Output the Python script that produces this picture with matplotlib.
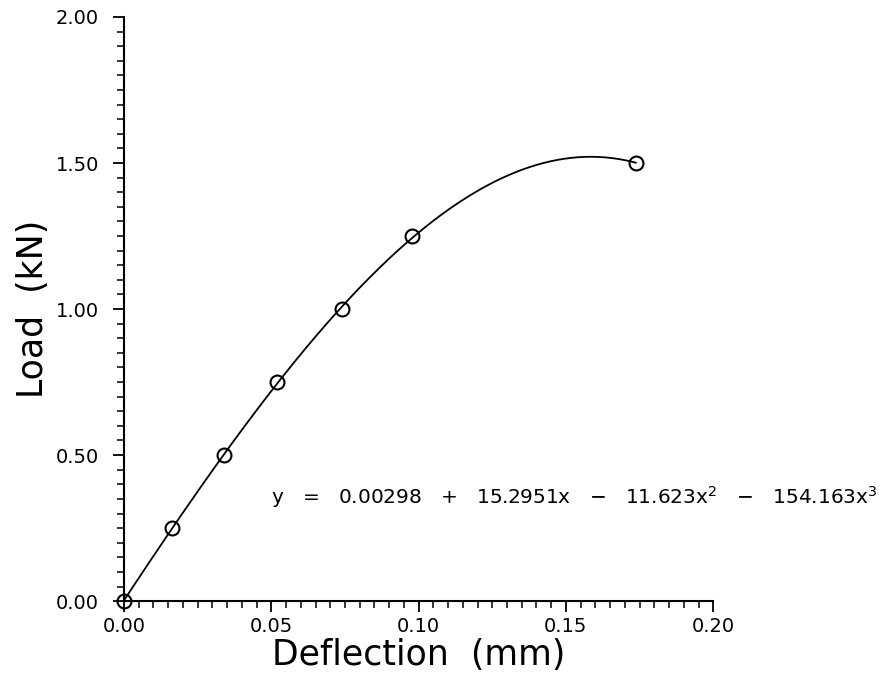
import numpy as np
import matplotlib.pyplot as plt
from matplotlib.ticker import MultipleLocator, FormatStrFormatter

# measured points (deflection mm, load kN)
deflection = [0.0, 0.0163, 0.0340, 0.0520, 0.0740, 0.0978, 0.1737]
load = [0.0, 0.25, 0.50, 0.75, 1.00, 1.25, 1.50]

# cubic fit coefficients, highest power first (from the printed equation)
fit_coeffs = [-154.163, -11.623, 15.2951, 0.00298]
fit_label = r"y   =   0.00298   +   15.2951x   $-$   11.623x$^2$   $-$   154.163x$^3$"

fig = plt.figure(figsize=(8.86, 6.8), dpi=100)
ax = fig.add_axes([0.140, 0.116, 0.665, 0.859])

xs = np.linspace(0, deflection[-1], 300)
ax.plot(xs, np.polyval(fit_coeffs, xs), color='black', linewidth=1.3)
ax.plot(deflection, load, linestyle='none', marker='o', markersize=10,
        markerfacecolor='none', markeredgecolor='black', markeredgewidth=1.5,
        clip_on=False)

ax.text(0.0500, 0.356, fit_label, fontsize=14.5, va='center', ha='left')

ax.set_xlim(0, 0.20)
ax.set_ylim(0, 2.00)
ax.xaxis.set_major_locator(MultipleLocator(0.05))
ax.xaxis.set_minor_locator(MultipleLocator(0.005))
ax.yaxis.set_major_locator(MultipleLocator(0.5))
ax.yaxis.set_minor_locator(MultipleLocator(0.05))
ax.xaxis.set_major_formatter(FormatStrFormatter('%.2f'))
ax.yaxis.set_major_formatter(FormatStrFormatter('%.2f'))

ax.spines['top'].set_visible(False)
ax.spines['right'].set_visible(False)
ax.spines['left'].set_linewidth(1.5)
ax.spines['bottom'].set_linewidth(1.5)
ax.tick_params(which='major', direction='out', length=8, width=1.3, labelsize=14)
ax.tick_params(which='minor', direction='out', length=5, width=1.1)
ax.tick_params(axis='y', which='major', pad=10)
ax.tick_params(axis='x', which='major', pad=3.5)

ax.set_xlabel('Deflection  (mm)', fontsize=25, labelpad=1.5)
ax.set_ylabel('Load  (kN)', fontsize=25, labelpad=4)

fig.savefig('out.png', dpi=100)
